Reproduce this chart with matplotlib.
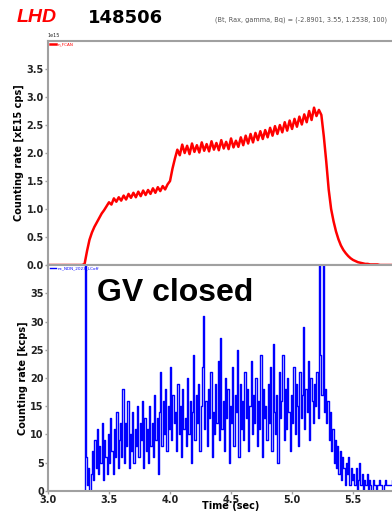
import matplotlib
matplotlib.use("Agg")
import matplotlib.pyplot as plt
import numpy as np

# shot info
shot_no = "148506"
device = "LHD"
params = "(Bt, Rax, gamma, Bq) = (-2.8901, 3.55, 1.2538, 100)"

# upper trace: counting rate [x1e15 cps], sampled every 20 ms from 3.00 s
rate_t0, rate_dt = 3.0, 0.02
rate_e15 = [
    0, 0, 0, 0, 0, 0, 0, 0, 0, 0,
    0, 0, 0, 0, 0, 0.02, 0.25, 0.45, 0.58, 0.68,
    0.76, 0.84, 0.92, 0.98, 1.05, 1.12, 1.08, 1.19, 1.13, 1.21,
    1.15, 1.24, 1.17, 1.27, 1.20, 1.29, 1.21, 1.31, 1.23, 1.33,
    1.25, 1.34, 1.27, 1.37, 1.29, 1.39, 1.32, 1.41, 1.35, 1.44,
    1.50, 1.72, 1.90, 2.06, 1.96, 2.15, 2.00, 2.13, 1.98, 2.17,
    2.02, 2.14, 2.01, 2.19, 2.04, 2.16, 2.03, 2.21, 2.06, 2.18,
    2.05, 2.23, 2.08, 2.20, 2.07, 2.26, 2.10, 2.22, 2.11, 2.28,
    2.14, 2.31, 2.17, 2.34, 2.19, 2.36, 2.23, 2.39, 2.25, 2.41,
    2.28, 2.45, 2.31, 2.48, 2.34, 2.50, 2.37, 2.55, 2.40, 2.58,
    2.43, 2.61, 2.47, 2.65, 2.51, 2.69, 2.55, 2.75, 2.59, 2.81,
    2.66, 2.77, 2.68, 2.30, 1.85, 1.35, 1.00, 0.78, 0.60, 0.46,
    0.35, 0.27, 0.21, 0.16, 0.12, 0.09, 0.07, 0.05, 0.04, 0.03,
    0.02, 0.02, 0.01, 0.01, 0.01, 0.01, 0, 0, 0, 0,
    0, 0, 0, 0, 0, 0, 0, 0, 0, 0,
]

# lower trace: counting rate [kcps], 10 ms bins from 3.00 s
cnt_t0, cnt_dt = 3.0, 0.01
cnt_kcps = [
    0, 0, 0, 0, 0, 0, 0, 0, 0, 0,
    0, 0, 0, 0, 0, 0, 0, 0, 0, 0,
    0, 0, 0, 0, 0, 0, 0, 0, 0, 0,
    60, 6, 1, 4, 0, 3, 7, 2, 9, 4,
    11, 3, 8, 5, 12, 2, 9, 6, 3, 10,
    5, 13, 7, 3, 11, 6, 14, 4, 9, 12,
    6, 18, 5, 12, 8, 16, 4, 10, 7, 14,
    5, 11, 8, 15, 6, 12, 9, 16, 4, 13,
    7, 11, 5, 15, 8, 12, 6, 17, 9, 13,
    3, 14, 21, 8, 16, 10, 18, 7, 15, 11,
    22, 9, 17, 12, 14, 7, 19, 10, 15, 6,
    18, 11, 13, 8, 20, 10, 16, 5, 14, 24,
    9, 17, 12, 19, 7, 15, 22, 31, 11, 16,
    8, 18, 13, 21, 6, 14, 10, 19, 12, 23,
    9, 27, 11, 16, 7, 20, 13, 18, 5, 15,
    12, 22, 8, 17, 14, 25, 6, 19, 11, 16,
    9, 21, 13, 18, 7, 15, 23, 10, 17, 12,
    20, 8, 16, 11, 24, 6, 18, 13, 15, 9,
    19, 12, 22, 7, 26, 14, 10, 17, 5, 21,
    13, 16, 24, 9, 18, 11, 20, 14, 7, 17,
    12, 22, 10, 19, 15, 8, 21, 13, 17, 29,
    11, 18, 14, 23, 9, 20, 16, 12, 19, 15,
    21, 13, 60, 24, 17, 60, 14, 18, 12, 16,
    9, 14, 7, 11, 5, 9, 4, 8, 3, 7,
    2, 6, 4, 1, 5, 3, 6, 1, 4, 2,
    3, 1, 4, 0, 2, 5, 1, 3, 0, 2,
    1, 3, 0, 2, 1, 0, 2, 1, 1, 0,
    1, 2, 1, 1, 0, 1, 2, 1, 1, 1,
    1, 1, 2, 1, 1, 1, 1, 1, 1, 1,
    1, 1, 1, 1, 1, 1, 1, 1, 1, 1,
]

rate_t = rate_t0 + rate_dt * np.arange(len(rate_e15))
cnt_t = cnt_t0 + cnt_dt * np.arange(len(cnt_kcps))

fig = plt.figure(figsize=(3.92, 5.13), dpi=100)
ax1 = fig.add_axes([0.1224, 0.4834, 0.934, 0.4366])
ax2 = fig.add_axes([0.1224, 0.0429, 0.934, 0.4405], sharex=ax1)

ax1.plot(rate_t, np.array(rate_e15) * 1e15, color="red", lw=1.8, label="n_FCAN")
ax2.plot(cnt_t, cnt_kcps, color="blue", lw=1.0, drawstyle="steps-post",
         label="nc_NDN_2023_LCoff")

ax1.set_ylim(0, 4.0e15)
ax1.set_yticks(np.arange(0, 3.6e15, 0.5e15))
ax1.yaxis.get_offset_text().set_fontsize(3.5)
ax2.set_xlim(3.0, 6.0)
ax2.set_ylim(0, 40)
ax2.set_yticks(range(0, 40, 5))
ax2.set_xticks(np.arange(3.0, 5.51, 0.5))
ax1.tick_params(axis="x", bottom=False, labelbottom=False)

for ax in (ax1, ax2):
    for sp in ax.spines.values():
        sp.set_color("#a0a0a0")
        sp.set_linewidth(1.5)
    ax.tick_params(length=2, width=1, color="#a0a0a0", labelsize=7, pad=1,
                   labelcolor="#222222")
    for lbl in ax.get_xticklabels() + ax.get_yticklabels():
        lbl.set_fontweight("bold")
    ax.legend(loc="upper left", fontsize=3, frameon=False, borderaxespad=0,
              handlelength=1.5, handletextpad=0.3, labelcolor="linecolor")

ax1.set_ylabel("Counting rate [xE15 cps]", fontsize=7, fontweight="bold", labelpad=2)
ax2.set_ylabel("Counting rate [kcps]", fontsize=7, fontweight="bold", labelpad=2)
ax2.set_xlabel("Time (sec)", fontsize=7, fontweight="bold", labelpad=-3)

ax2.text(3.40, 33.6, "GV closed", fontsize=23, fontweight="bold",
         family="Liberation Sans", color="black")

fig.text(0.043, 0.965, device, fontsize=14, fontweight="bold", style="italic",
         family="Liberation Sans", color="red", va="center")
fig.text(0.225, 0.965, shot_no, fontsize=13, fontweight="bold",
         family="DejaVu Sans", color="black", va="center")
fig.text(0.548, 0.962, params, fontsize=4.7, color="#555555", va="center")

fig.savefig("out.png", dpi=100)
